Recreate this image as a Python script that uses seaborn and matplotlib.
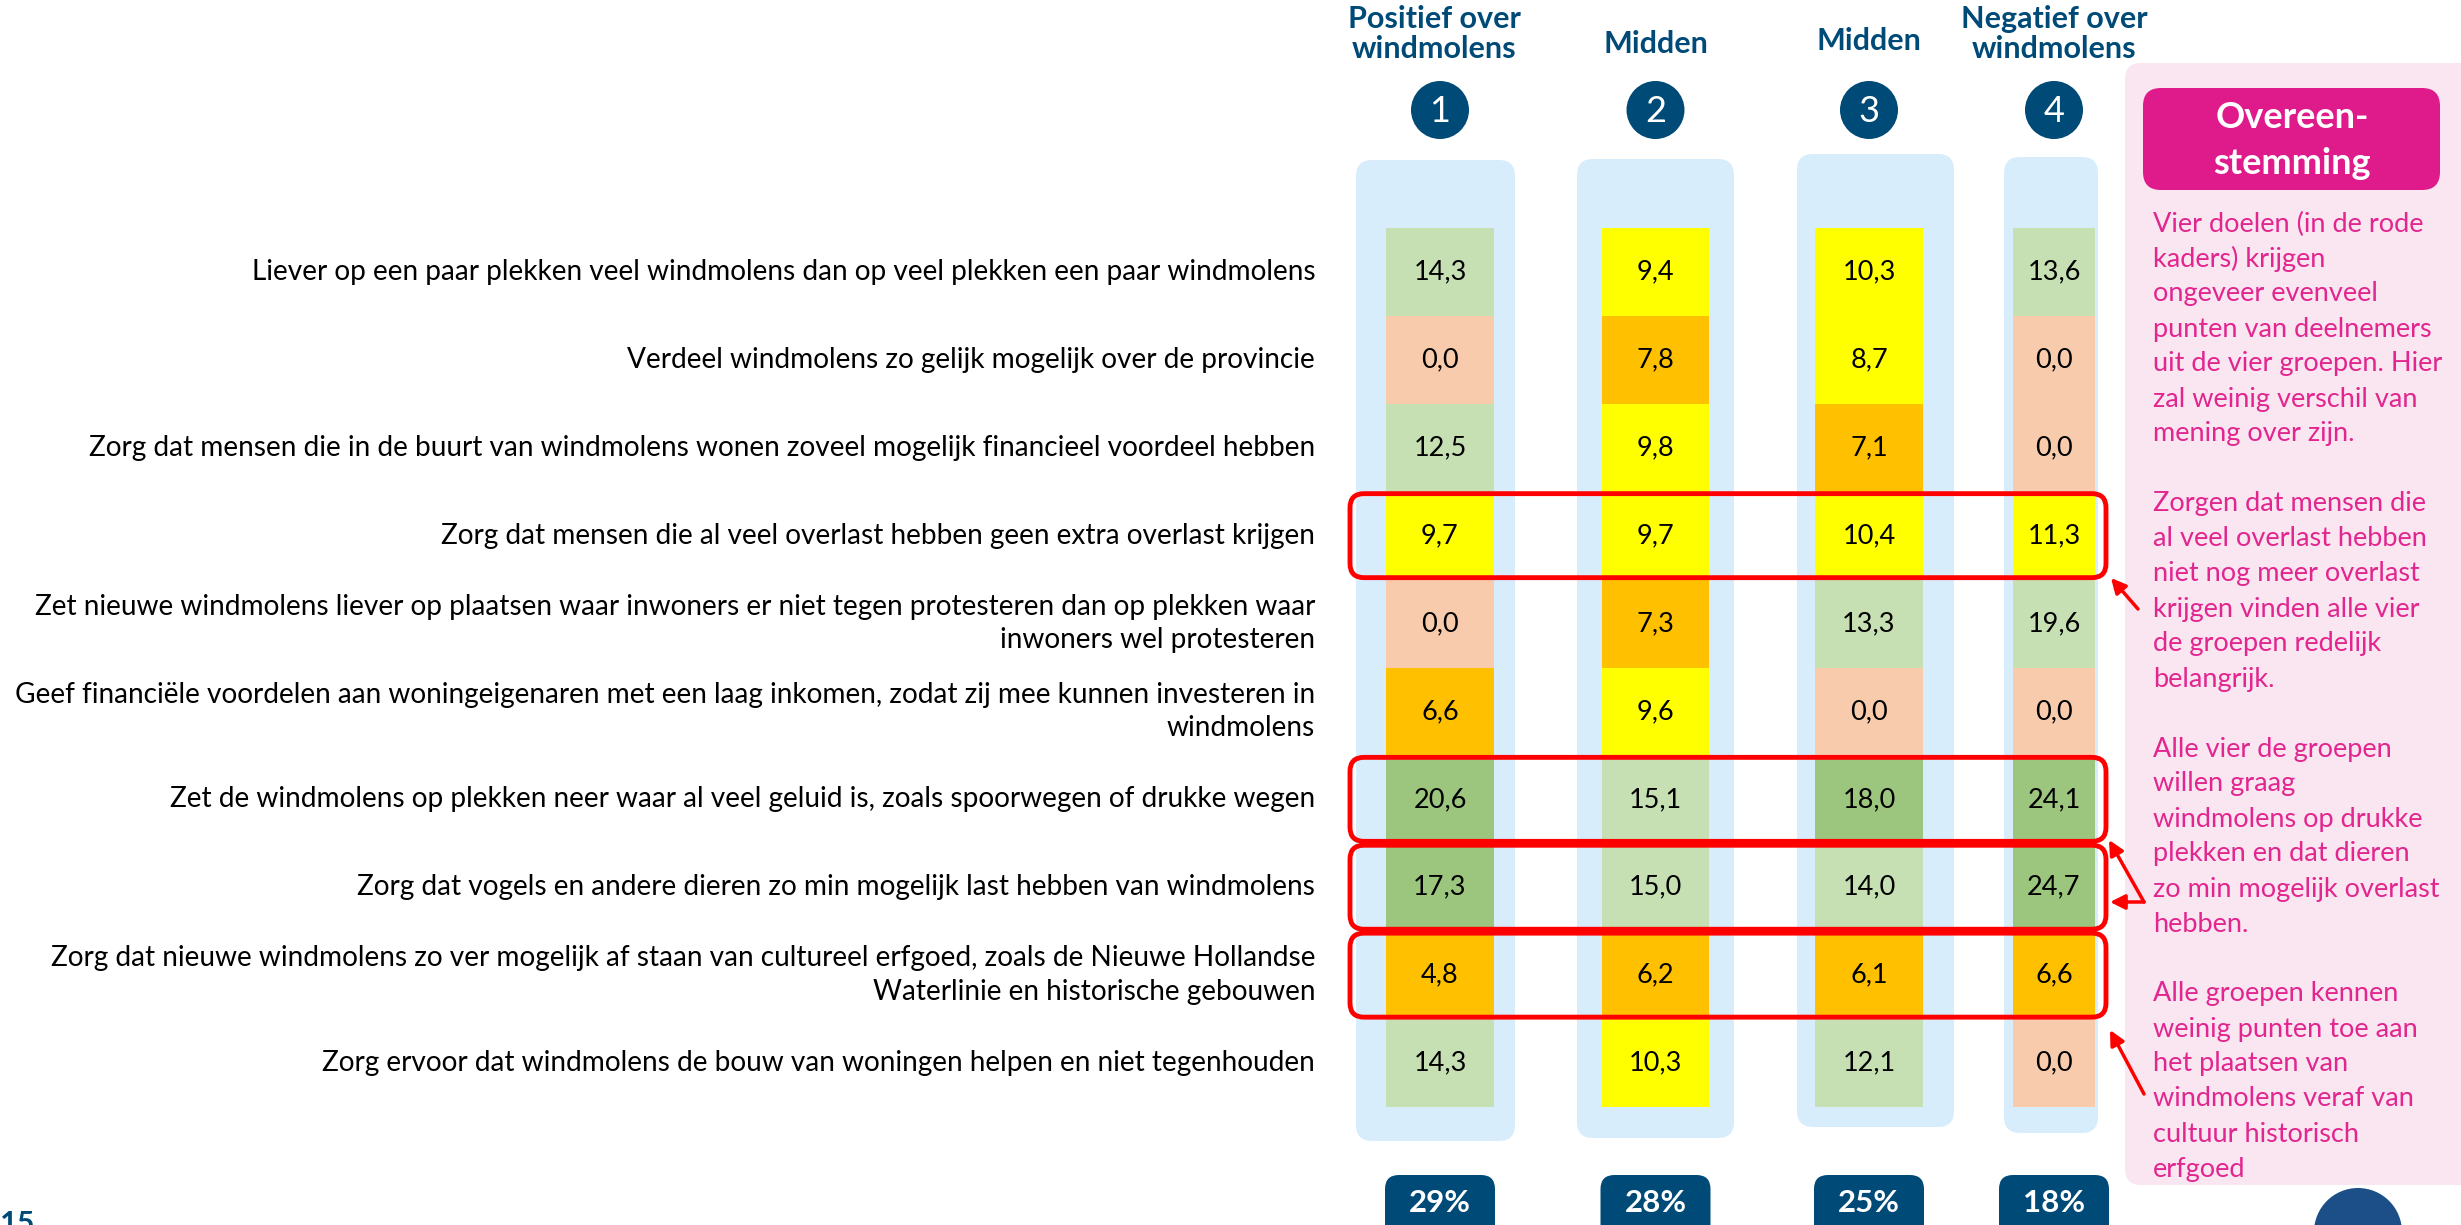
import matplotlib
matplotlib.use('Agg')
import matplotlib.pyplot as plt
from matplotlib.colors import ListedColormap
from matplotlib.patches import FancyBboxPatch, Circle
import numpy as np
import pandas as pd
import seaborn as sns

# --- data ---
doelen = [
    "Liever op een paar plekken veel windmolens dan op veel plekken een paar windmolens",
    "Verdeel windmolens zo gelijk mogelijk over de provincie",
    "Zorg dat mensen die in de buurt van windmolens wonen zoveel mogelijk financieel voordeel hebben",
    "Zorg dat mensen die al veel overlast hebben geen extra overlast krijgen",
    "Zet nieuwe windmolens liever op plaatsen waar inwoners er niet tegen protesteren dan op plekken waar\ninwoners wel protesteren",
    "Geef financiële voordelen aan woningeigenaren met een laag inkomen, zodat zij mee kunnen investeren in\nwindmolens",
    "Zet de windmolens op plekken neer waar al veel geluid is, zoals spoorwegen of drukke wegen",
    "Zorg dat vogels en andere dieren zo min mogelijk last hebben van windmolens",
    "Zorg dat nieuwe windmolens zo ver mogelijk af staan van cultureel erfgoed, zoals de Nieuwe Hollandse\nWaterlinie en historische gebouwen",
    "Zorg ervoor dat windmolens de bouw van woningen helpen en niet tegenhouden",
]
groep_namen = ["Positief over\nwindmolens", "Midden", "Midden", "Negatief over\nwindmolens"]
groep_nrs = ["1", "2", "3", "4"]
groep_aandeel = ["29%", "28%", "25%", "18%"]

punten_1 = [14.3, 0.0, 12.5, 9.7, 0.0, 6.6, 20.6, 17.3, 4.8, 14.3]
punten_2 = [9.4, 7.8, 9.8, 9.7, 7.3, 9.6, 15.1, 15.0, 6.2, 10.3]
punten_3 = [10.3, 8.7, 7.1, 10.4, 13.3, 0.0, 18.0, 14.0, 6.1, 12.1]
punten_4 = [13.6, 0.0, 0.0, 11.3, 19.6, 0.0, 24.1, 24.7, 6.6, 0.0]

# kleurklasse per cel: 4 zeer hoog, 3 hoog, 2 gemiddeld, 1 laag, 0 geen punten
klasse_1 = [3, 0, 3, 2, 0, 1, 4, 4, 1, 3]
klasse_2 = [2, 1, 2, 2, 1, 2, 3, 3, 1, 2]
klasse_3 = [2, 2, 1, 2, 3, 0, 4, 3, 1, 3]
klasse_4 = [3, 0, 0, 2, 3, 0, 4, 4, 1, 0]

overeenstemming = [3, 6, 7, 8]  # rijen in rode kaders

toelichting = [
    "Vier doelen (in de rode", "kaders) krijgen", "ongeveer evenveel",
    "punten van deelnemers", "uit de vier groepen. Hier", "zal weinig verschil van",
    "mening over zijn.", "",
    "Zorgen dat mensen die", "al veel overlast hebben", "niet nog meer overlast",
    "krijgen vinden alle vier", "de groepen redelijk", "belangrijk.", "",
    "Alle vier de groepen", "willen graag", "windmolens op drukke",
    "plekken en dat dieren", "zo min mogelijk overlast", "hebben.", "",
    "Alle groepen kennen", "weinig punten toe aan", "het plaatsen van",
    "windmolens veraf van", "cultuur historisch", "erfgoed",
]

punten = [punten_1, punten_2, punten_3, punten_4]
klassen = [klasse_1, klasse_2, klasse_3, klasse_4]

# --- layout (pixels) ---
W, H = 2461, 1225
NAVY = "#004A78"
PINK = "#E2268F"
cel_x = [(1386, 1494), (1602, 1709), (1815, 1923), (2013, 2095)]
bg_x = [(1356, 1515), (1577, 1734), (1797, 1954), (2004, 2098)]
bg_y = [(160, 1141), (159, 1138), (154, 1127), (157, 1133)]
cel_top, cel_bot = 228, 1107
kop_y = [34, 44, 41, 34]

plt.rcParams['font.family'] = ['Lato', 'DejaVu Sans']

fig = plt.figure(figsize=(W / 100, H / 100), dpi=100)
fig.patch.set_facecolor("white")

bg = fig.add_axes([0, 0, 1, 1], zorder=0)
bg.set_xlim(0, W)
bg.set_ylim(H, 0)
bg.axis('off')

for (x0, x1), (y0, y1) in zip(bg_x, bg_y):
    bg.add_patch(FancyBboxPatch((x0, y0), x1 - x0, y1 - y0,
                                boxstyle="round,pad=0,rounding_size=16",
                                fc="#D8EDFC", ec="none"))

# roze paneel
bg.add_patch(FancyBboxPatch((2125, 63), 360, 1122, boxstyle="round,pad=0,rounding_size=16",
                            fc="#FAE6F1", ec="none"))
bg.add_patch(FancyBboxPatch((2143, 88), 297, 102, boxstyle="round,pad=0,rounding_size=18",
                            fc="#DF1A8B", ec="none"))
bg.text(2292, 118, "Overeen-", ha='center', va='center', color='white', fontsize=26, fontweight='bold')
bg.text(2292, 163, "stemming", ha='center', va='center', color='white', fontsize=26, fontweight='bold')
for k, regel in enumerate(toelichting):
    bg.text(2153, 224 + k * 35, regel, ha='left', va='center', color=PINK, fontsize=19.5)

# koppen, nummers, aandelen
for i in range(4):
    cx = (cel_x[i][0] + cel_x[i][1]) / 2
    bg.text(cx - 6 if i == 0 else cx, kop_y[i], groep_namen[i], ha='center', va='center',
            color=NAVY, fontsize=22, fontweight='bold', linespacing=1.1)
    bg.add_patch(Circle((cx, 110), 29, fc=NAVY, ec='none'))
    bg.text(cx, 111, groep_nrs[i], ha='center', va='center', color='white', fontsize=26)
    bx0, bx1 = min(cel_x[i][0], cx - 55), max(cel_x[i][1], cx + 55)
    bg.add_patch(FancyBboxPatch((bx0, 1175), bx1 - bx0, 90, boxstyle="round,pad=0,rounding_size=14",
                                fc=NAVY, ec='none'))
    bg.text(cx, 1203, groep_aandeel[i], ha='center', va='center', color='white',
            fontsize=22.5, fontweight='bold')

bg.text(0, 1210, "15", ha='left', va='top', color=NAVY, fontsize=22, fontweight='bold')
bg.add_patch(Circle((2358, 1232), 44, fc="#1C4F87", ec='none'))

# heatmap-kolommen
cmap = ListedColormap(["#F8CBAD", "#FFC000", "#FFFF00", "#C6E0B4", "#9CC57D"])
for i in range(4):
    x0, x1 = cel_x[i]
    ax = fig.add_axes([x0 / W, 1 - cel_bot / H, (x1 - x0) / W, (cel_bot - cel_top) / H], zorder=1)
    df = pd.DataFrame({'klasse': klassen[i]}, index=doelen)
    annot = np.array([[f"{v:.1f}".replace('.', ',')] for v in punten[i]])
    sns.heatmap(df, ax=ax, cmap=cmap, vmin=-0.5, vmax=4.5, cbar=False,
                annot=annot, fmt='', annot_kws={'color': 'black', 'fontsize': 19.5},
                xticklabels=False, yticklabels=(i == 0))
    ax.set_xlabel('')
    ax.set_ylabel('')
    if i == 0:
        ax.tick_params(axis='y', length=0, pad=51, labelsize=20.2)
        plt.setp(ax.get_yticklabels(), rotation=0, ha='right', color='black', linespacing=1.35)
    else:
        ax.tick_params(axis='y', length=0)

# rode kaders en pijlen
ov = fig.add_axes([0, 0, 1, 1], zorder=3)
ov.set_xlim(0, W)
ov.set_ylim(H, 0)
ov.axis('off')
rij_h = (cel_bot - cel_top) / len(doelen)
for r in overeenstemming:
    cy = cel_top + (r + 0.5) * rij_h
    ov.add_patch(FancyBboxPatch((1350, cy - 42), 756, 84, boxstyle="round,pad=0,rounding_size=14",
                                fill=False, ec='red', lw=3.5))

pijl = dict(arrowstyle='-|>', color='red', lw=2.5, mutation_scale=22, shrinkA=0, shrinkB=0)
ov.annotate('', xy=(2111, 578), xytext=(2138, 609), arrowprops=pijl)
ov.annotate('', xy=(2109, 840), xytext=(2144, 902), arrowprops=pijl)
ov.annotate('', xy=(2110, 902), xytext=(2144, 902), arrowprops=pijl)
ov.annotate('', xy=(2110, 1030), xytext=(2144, 1094), arrowprops=pijl)

fig.savefig("out.png", dpi=100)
